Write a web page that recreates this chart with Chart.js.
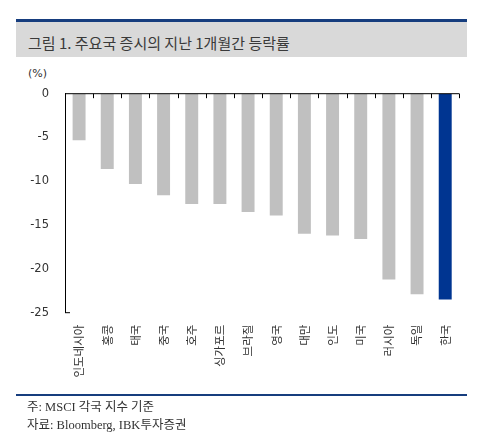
<!DOCTYPE html>
<html>
<head>
<meta charset="utf-8">
<script src="https://cdn.jsdelivr.net/npm/chart.js@4.4.1/dist/chart.umd.min.js"></script>
<style>
  html, body { margin: 0; padding: 0; background: #fff; }
  body { width: 480px; height: 438px; position: relative; overflow: hidden; }
  #topline { position: absolute; left: 16px; top: 19px; width: 451px; height: 2.5px; background: #163d7e; }
  #band { position: absolute; left: 16px; top: 21.5px; width: 451px; height: 35.5px; background: #d9d9d9; }
  #title { position: absolute; left: 28px; top: 32px; font: 15px "Noto Sans CJK KR", sans-serif; color: #3a3a3a; line-height: 21px; white-space: nowrap; }
  #unit { position: absolute; left: 28px; top: 67px; font: 11px "DejaVu Sans", sans-serif; color: #333; }
  #botline { position: absolute; left: 16px; top: 393.5px; width: 451px; height: 2px; background: #163d7e; }
  .note { position: absolute; left: 27px; font: 12.5px "Liberation Serif", "Noto Sans CJK KR", serif; color: #333; white-space: nowrap; line-height: 16px; }
  #c { position: absolute; left: 0; top: 0; }
</style>
</head>
<body>
<div id="topline"></div>
<div id="band"></div>
<div id="title">그림 1. 주요국 증시의 지난 1개월간 등락률</div>
<div id="unit">(%)</div>
<canvas id="c" width="480" height="438"></canvas>
<div id="botline"></div>
<div class="note" style="top:399px">주: MSCI 각국 지수 기준</div>
<div class="note" style="top:417px">자료: Bloomberg, IBK투자증권</div>
<script>
const categories = ['인도네시아', '홍콩', '태국', '중국', '호주', '싱가포르', '브라질', '영국', '대만', '인도', '미국', '러시아', '독일', '한국'];
const changes = [-5.3, -8.6, -10.3, -11.6, -12.6, -12.6, -13.5, -13.9, -16.0, -16.2, -16.6, -21.2, -22.9, -23.5];
const yTicks = [0, -5, -10, -15, -20, -25];
const highlight = '한국';

const zeroLine = {
  id: 'zeroLine',
  afterDatasetsDraw(chart) {
    const { ctx, chartArea, scales } = chart;
    const x = scales.x, y = scales.y;
    const y0 = y.getPixelForValue(0);
    ctx.save();
    ctx.strokeStyle = '#000';
    ctx.lineWidth = 1;
    ctx.beginPath();
    ctx.moveTo(chartArea.left, y0);
    ctx.lineTo(chartArea.right, y0);
    for (let i = 0; i <= categories.length; i++) {
      const px = Math.round(x.getPixelForValue(i - 0.5)) + 0.5;
      ctx.moveTo(px, y0);
      ctx.lineTo(px, y0 + 4.5);
    }
    const yb = y.getPixelForValue(y.min);
    ctx.moveTo(chartArea.left, yb);
    ctx.lineTo(chartArea.left + 5, yb);
    ctx.stroke();
    ctx.restore();
  }
};

new Chart(document.getElementById('c'), {
  type: 'bar',
  data: {
    labels: categories,
    datasets: [{
      data: changes,
      backgroundColor: categories.map(c => c === highlight ? '#003591' : '#c0c0c0'),
      borderWidth: 0,
      barPercentage: 0.46,
      categoryPercentage: 1
    }]
  },
  options: {
    responsive: false,
    animation: false,
    devicePixelRatio: 1,
    layout: { padding: { left: 0, top: 93.7, right: 20.7, bottom: 0 } },
    plugins: { legend: { display: false }, tooltip: { enabled: false } },
    scales: {
      x: {
        grid: { display: false, drawTicks: false },
        border: { display: false },
        afterFit(scale) { scale.height = 125.3; },
        ticks: {
          autoSkip: false,
          minRotation: 90,
          maxRotation: 90,
          padding: 12,
          color: '#333',
          font: { family: '"Noto Sans CJK KR", sans-serif', size: 11.5 }
        }
      },
      y: {
        min: -25,
        max: 0,
        afterFit(scale) { scale.width = 65; },
        afterBuildTicks(scale) { scale.ticks = yTicks.map(v => ({ value: v })); },
        grid: { display: false, drawTicks: false },
        border: { display: true, color: '#000', width: 1 },
        ticks: {
          padding: 16,
          color: '#333',
          font: { family: '"DejaVu Sans", sans-serif', size: 11.5 },
          callback: v => String(v)
        }
      }
    }
  },
  plugins: [zeroLine]
});
</script>
</body>
</html>
